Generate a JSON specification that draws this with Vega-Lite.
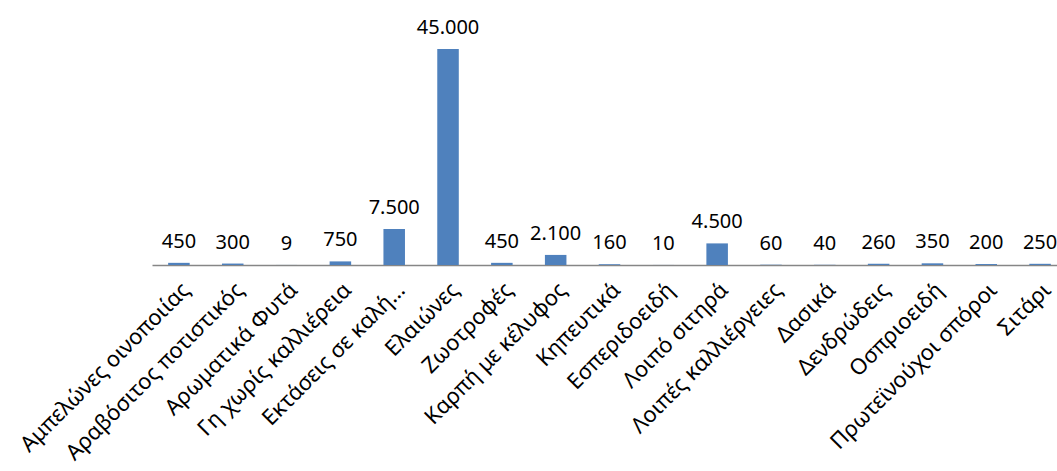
{
  "$schema": "https://vega.github.io/schema/vega-lite/v6.json",
  "width": 915,
  "height": 216,
  "autosize": "none",
  "padding": {"left": 152, "top": 49, "right": 0, "bottom": 206},
  "background": "white",
  "config": {
    "view": {"stroke": null},
    "locale": {"number": {"decimal": ",", "thousands": ".", "grouping": [3], "currency": ["", " €"]}}
  },
  "data": {
    "values": [
      {"k": "Αμπελώνες οινοποιίας", "v": 450},
      {"k": "Αραβόσιτος ποτιστικός", "v": 300},
      {"k": "Αρωματικά Φυτά", "v": 9},
      {"k": "Γη χωρίς καλλιέρεια", "v": 750},
      {"k": "Εκτάσεις σε καλή…", "v": 7500},
      {"k": "Ελαιώνες", "v": 45000},
      {"k": "Ζωοτροφές", "v": 450},
      {"k": "Καρπή με κέλυφος", "v": 2100},
      {"k": "Κηπευτικά", "v": 160},
      {"k": "Εσπεριδοειδή", "v": 10},
      {"k": "Λοιπό σιτηρά", "v": 4500},
      {"k": "Λοιπές καλλιέργειες", "v": 60},
      {"k": "Δασικά", "v": 40},
      {"k": "Δενδρώδεις", "v": 260},
      {"k": "Οσπριοειδή", "v": 350},
      {"k": "Πρωτεϊνούχοι σπόροι", "v": 200},
      {"k": "Σιτάρι", "v": 250}
    ]
  },
  "encoding": {
    "x": {
      "field": "k", "type": "nominal", "sort": null,
      "scale": {"paddingInner": 0.6, "paddingOuter": 0.3},
      "axis": {
        "title": null, "ticks": false, "labelAngle": -45,
        "labelFont": "Noto Sans", "labelFontSize": 22, "labelColor": "#000000",
        "labelPadding": 14, "labelLimit": 400,
        "domainColor": "#868686", "domainWidth": 1.5, "grid": false
      }
    },
    "y": {
      "field": "v", "type": "quantitative",
      "scale": {"domain": [0, 45000], "nice": false},
      "axis": null
    }
  },
  "layer": [
    {"mark": {"type": "bar", "color": "#4F81BD"}},
    {
      "mark": {"type": "text", "baseline": "alphabetic", "dy": -15, "font": "Noto Sans", "fontSize": 20, "color": "#000000"},
      "encoding": {"text": {"field": "v", "type": "quantitative", "format": ",.0f"}}
    }
  ]
}
